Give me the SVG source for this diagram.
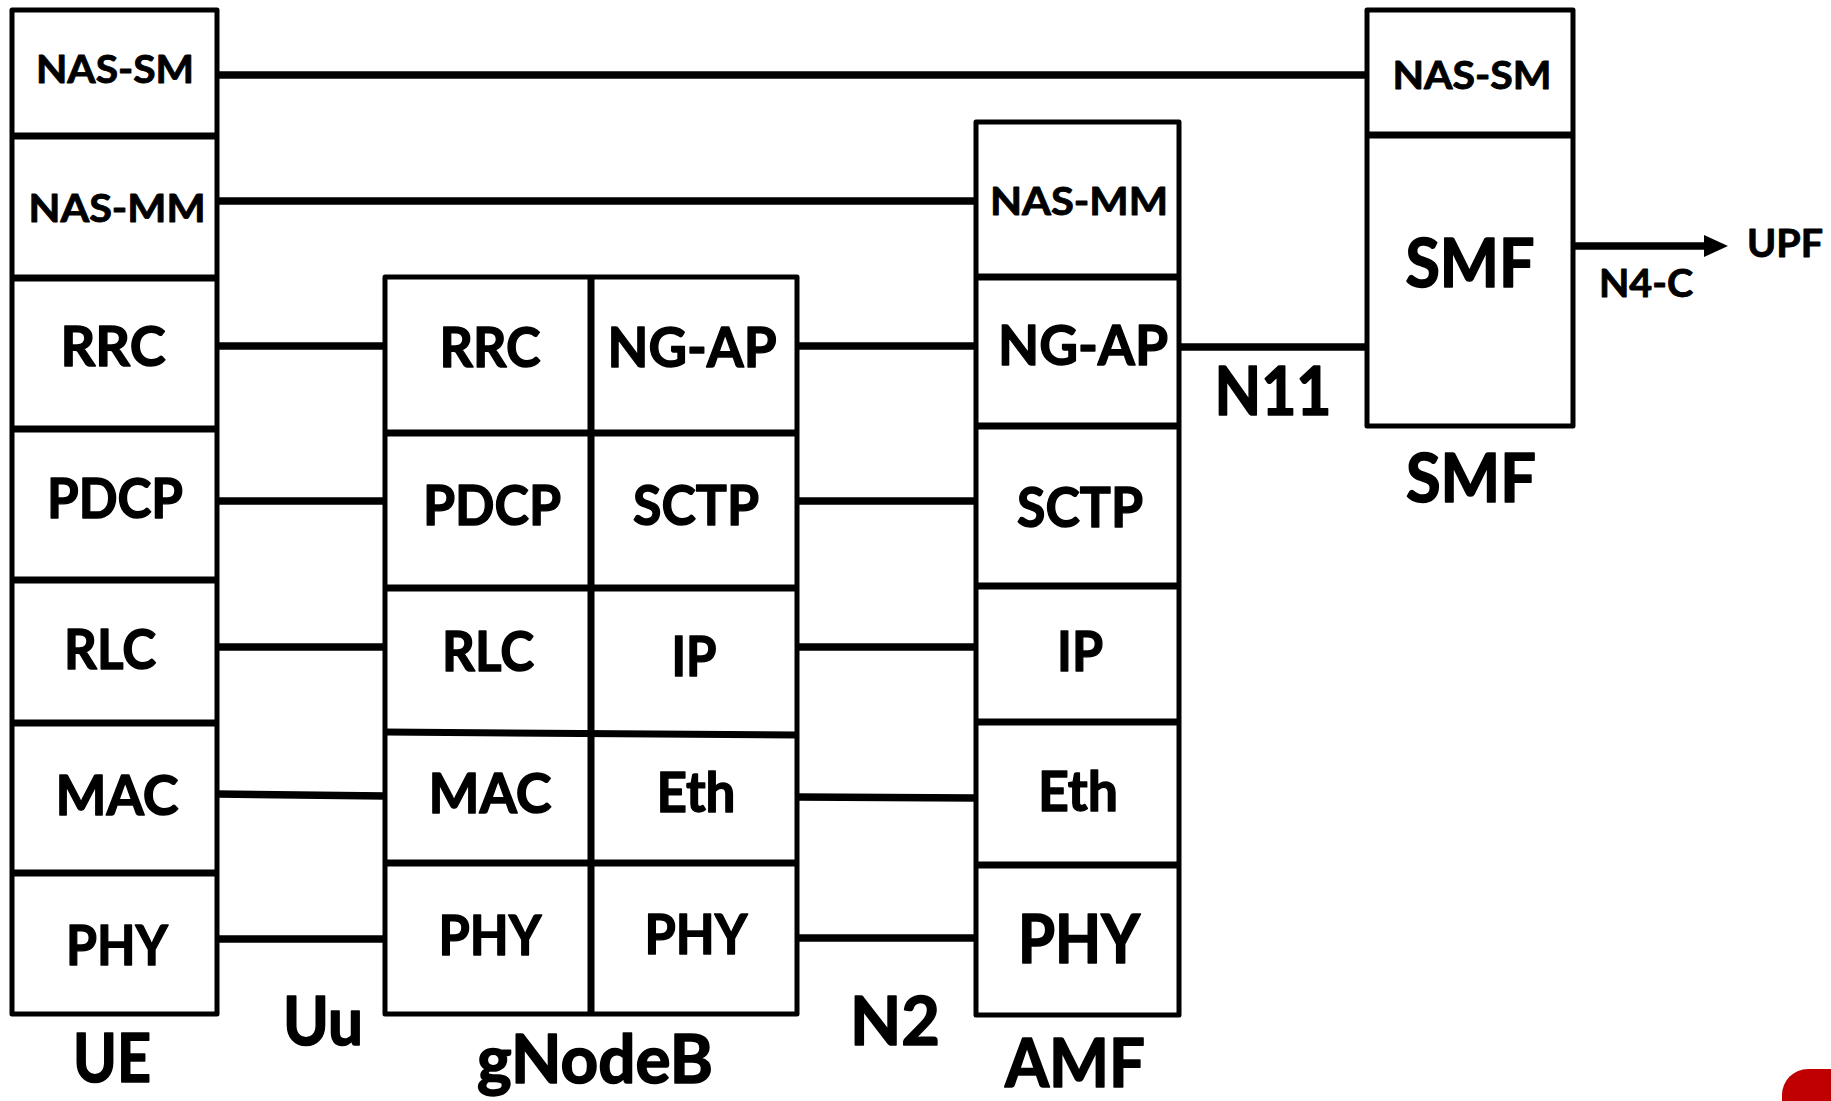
<svg xmlns="http://www.w3.org/2000/svg" width="1831" height="1101" viewBox="0 0 1831 1101">
  <style>
    .frame { fill: #ffffff; stroke: #000000; stroke-width: 5; stroke-linejoin: round; }
    .sep { stroke: #000000; stroke-width: 7; fill: none; }
    .link { stroke: #000000; stroke-width: 7.5; fill: none; }
    text { font-family: Lato, "Open Sans", "Liberation Sans", sans-serif; font-weight: 700; fill: #000000; stroke: #000000; stroke-width: 1.4; stroke-linejoin: round; text-anchor: middle; }
    .s { font-size: 39px; stroke-width: 0.9; }
    .m { font-size: 56px; }
    .l { font-size: 66px; stroke-width: 1.6; }
  </style>
  <defs>
    <marker id="arrow" viewBox="0 0 24 24" refX="2" refY="12" markerWidth="24" markerHeight="24" markerUnits="userSpaceOnUse" orient="auto">
      <path d="M0,1 L24,12 L0,23 Z" fill="#000000"/>
    </marker>
  </defs>

  <rect fill="#ffffff" x="0" y="0" width="1831" height="1101"/>

  <!-- connectors between peer layers -->
  <g id="connectors">
    <line class="link" x1="217" y1="75" x2="1367" y2="75"/>
    <line class="link" x1="217" y1="201" x2="976" y2="201"/>
    <line class="link" x1="217" y1="346" x2="385" y2="346"/>
    <line class="link" x1="217" y1="501" x2="385" y2="501"/>
    <line class="link" x1="217" y1="647" x2="385" y2="647"/>
    <line class="link" x1="217" y1="794" x2="385" y2="796"/>
    <line class="link" x1="217" y1="939" x2="385" y2="939"/>
    <line class="link" x1="797" y1="346" x2="976" y2="346"/>
    <line class="link" x1="797" y1="501" x2="976" y2="501"/>
    <line class="link" x1="797" y1="647" x2="976" y2="647"/>
    <line class="link" x1="797" y1="797" x2="976" y2="798"/>
    <line class="link" x1="797" y1="938" x2="976" y2="938"/>
    <line class="link" x1="1179" y1="347" x2="1367" y2="347"/>
    <line class="link" x1="1573" y1="246" x2="1706" y2="246" marker-end="url(#arrow)"/>
    <text class="l" x="323" y="1045" textLength="80" lengthAdjust="spacingAndGlyphs">Uu</text>
    <text class="l" x="895" y="1045" textLength="90" lengthAdjust="spacingAndGlyphs">N2</text>
    <text class="l" x="1273" y="415" textLength="117" lengthAdjust="spacingAndGlyphs">N11</text>
    <text class="s" x="1646" y="297" textLength="94" lengthAdjust="spacingAndGlyphs">N4-C</text>
    <text class="s" x="1785" y="257" textLength="76" lengthAdjust="spacingAndGlyphs">UPF</text>
  </g>

  <!-- UE protocol stack -->
  <g id="ue">
    <rect class="frame" x="12" y="10" width="205" height="1004"/>
    <line class="sep" x1="12" y1="136" x2="217" y2="136"/>
    <line class="sep" x1="12" y1="278" x2="217" y2="278"/>
    <line class="sep" x1="12" y1="429" x2="217" y2="429"/>
    <line class="sep" x1="12" y1="580" x2="217" y2="580"/>
    <line class="sep" x1="12" y1="723" x2="217" y2="723"/>
    <line class="sep" x1="12" y1="873" x2="217" y2="873"/>
    <text class="s" x="115" y="83" textLength="158" lengthAdjust="spacingAndGlyphs">NAS-SM</text>
    <text class="s" x="117" y="222" textLength="177" lengthAdjust="spacingAndGlyphs">NAS-MM</text>
    <text class="m" x="113" y="366" textLength="105" lengthAdjust="spacingAndGlyphs">RRC</text>
    <text class="m" x="115" y="518" textLength="136" lengthAdjust="spacingAndGlyphs">PDCP</text>
    <text class="m" x="110" y="669" textLength="92" lengthAdjust="spacingAndGlyphs">RLC</text>
    <text class="m" x="117" y="815" textLength="123" lengthAdjust="spacingAndGlyphs">MAC</text>
    <text class="m" x="117" y="965" textLength="102" lengthAdjust="spacingAndGlyphs">PHY</text>
    <text class="l" x="112" y="1082" font-size="63" textLength="78" lengthAdjust="spacingAndGlyphs">UE</text>
  </g>

  <!-- gNodeB protocol stack (radio side | core side) -->
  <g id="gnodeb">
    <rect class="frame" x="385" y="277" width="412" height="737"/>
    <line class="sep" x1="591" y1="277" x2="591" y2="1015"/>
    <line class="sep" x1="385" y1="433" x2="797" y2="433"/>
    <line class="sep" x1="385" y1="588" x2="797" y2="588"/>
    <line class="sep" x1="385" y1="732" x2="797" y2="735"/>
    <line class="sep" x1="385" y1="863" x2="797" y2="863"/>
    <text class="m" x="490" y="367" textLength="101" lengthAdjust="spacingAndGlyphs">RRC</text>
    <text class="m" x="692" y="367" textLength="169" lengthAdjust="spacingAndGlyphs">NG-AP</text>
    <text class="m" x="492" y="525" textLength="138" lengthAdjust="spacingAndGlyphs">PDCP</text>
    <text class="m" x="696" y="525" textLength="126" lengthAdjust="spacingAndGlyphs">SCTP</text>
    <text class="m" x="488" y="671" textLength="92" lengthAdjust="spacingAndGlyphs">RLC</text>
    <text class="m" x="694" y="676" textLength="45" lengthAdjust="spacingAndGlyphs">IP</text>
    <text class="m" x="490" y="813" textLength="123" lengthAdjust="spacingAndGlyphs">MAC</text>
    <text class="m" x="696" y="812" textLength="79" lengthAdjust="spacingAndGlyphs">Eth</text>
    <text class="m" x="490" y="955" textLength="103" lengthAdjust="spacingAndGlyphs">PHY</text>
    <text class="m" x="696" y="954" textLength="103" lengthAdjust="spacingAndGlyphs">PHY</text>
    <text class="l" x="595" y="1083" font-size="59" textLength="236" lengthAdjust="spacingAndGlyphs">gNodeB</text>
  </g>

  <!-- AMF protocol stack -->
  <g id="amf">
    <rect class="frame" x="976" y="122" width="203" height="893"/>
    <line class="sep" x1="976" y1="277" x2="1179" y2="277"/>
    <line class="sep" x1="976" y1="426" x2="1179" y2="426"/>
    <line class="sep" x1="976" y1="586" x2="1179" y2="586"/>
    <line class="sep" x1="976" y1="722" x2="1179" y2="722"/>
    <line class="sep" x1="976" y1="865" x2="1179" y2="865"/>
    <text class="s" x="1079" y="215" font-size="41" textLength="178" lengthAdjust="spacingAndGlyphs">NAS-MM</text>
    <text class="m" x="1083" y="365" textLength="170" lengthAdjust="spacingAndGlyphs">NG-AP</text>
    <text class="m" x="1080" y="527" textLength="126" lengthAdjust="spacingAndGlyphs">SCTP</text>
    <text class="m" x="1080" y="671" textLength="46" lengthAdjust="spacingAndGlyphs">IP</text>
    <text class="m" x="1078" y="811" textLength="80" lengthAdjust="spacingAndGlyphs">Eth</text>
    <text class="l" x="1079" y="963" font-size="67" textLength="122" lengthAdjust="spacingAndGlyphs">PHY</text>
    <text class="l" x="1075" y="1087" font-size="63" textLength="140" lengthAdjust="spacingAndGlyphs">AMF</text>
  </g>

  <!-- SMF stack -->
  <g id="smf">
    <rect class="frame" x="1367" y="10" width="206" height="416"/>
    <line class="sep" x1="1367" y1="135" x2="1573" y2="135"/>
    <text class="s" x="1472" y="89" textLength="159" lengthAdjust="spacingAndGlyphs">NAS-SM</text>
    <text class="l" x="1470" y="287" textLength="129" lengthAdjust="spacingAndGlyphs">SMF</text>
    <text class="l" x="1471" y="502" textLength="130" lengthAdjust="spacingAndGlyphs">SMF</text>
  </g>

  <!-- corner badge -->
  <rect x="1782" y="1069" width="100" height="100" rx="26" fill="#C00000"/>
</svg>
